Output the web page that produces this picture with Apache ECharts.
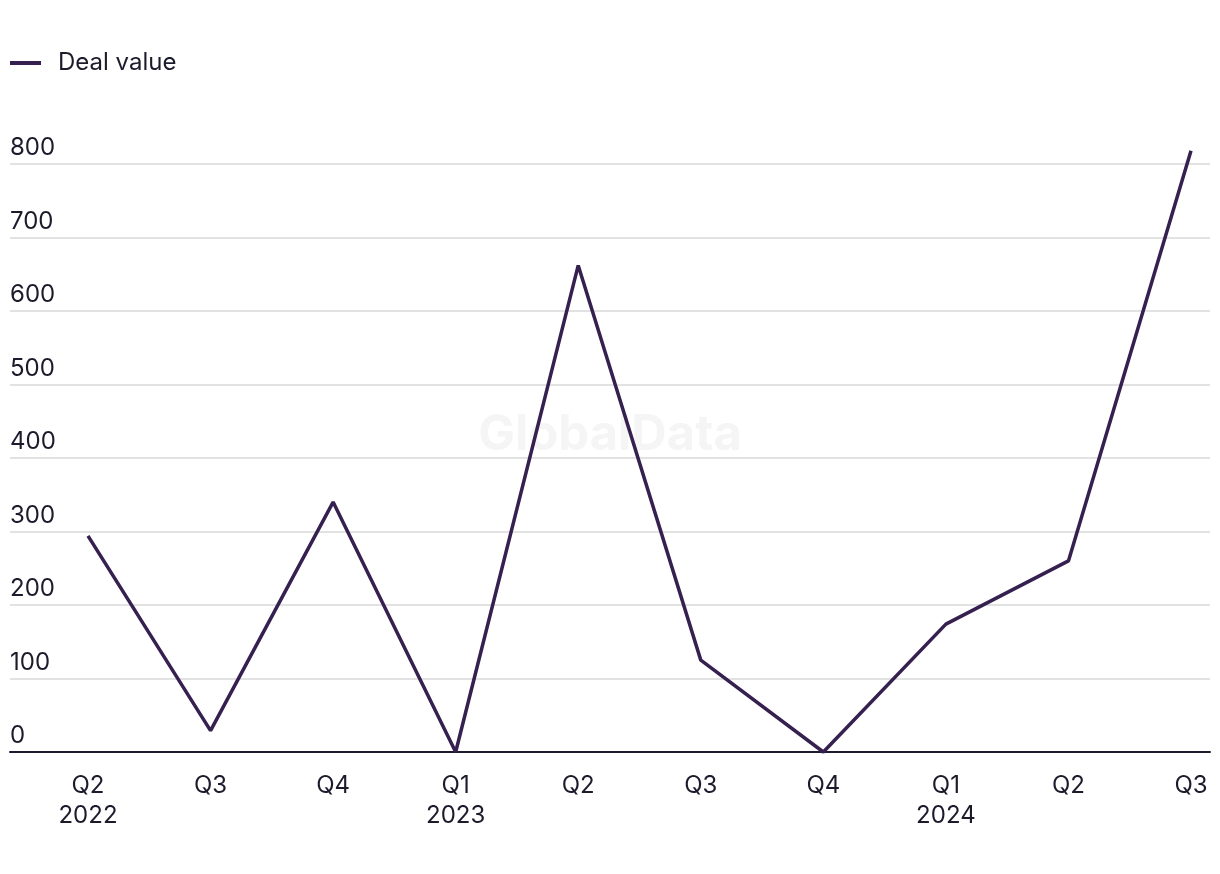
<!DOCTYPE html>
<html><head><meta charset="utf-8">
<script src="https://cdn.jsdelivr.net/npm/echarts@6/dist/echarts.min.js"></script>
<style>html,body{margin:0;padding:0;background:#fff}#c{width:1220px;height:874px}</style>
</head><body><div id="c"></div>
<script>
const categories = ['Q2\n2022','Q3','Q4','Q1\n2023','Q2','Q3','Q4','Q1\n2024','Q2','Q3'];
const dealValue = [294, 29, 340, 0, 662, 125, 0, 174, 260, 818];
const yTicks = {min: 0, max: 800, interval: 100};
const FONT = 'Inter, "Liberation Sans", sans-serif';
const TXT = '#1c1b2b';
const LINE = '#35204f';
const chart = echarts.init(document.getElementById('c'), null, {renderer: 'canvas'});
const TOP = 164, BOTTOM = 874 - 752;
chart.setOption({
  animation: false,
  backgroundColor: '#fff',
  graphic: [{
    type: 'text', left: 'center', top: 411, z: 0,
    style: {text: 'GlobalData', fontFamily: FONT, fontWeight: 'bold', fontSize: 49, fill: '#f5f5f5'}
  }],
  legend: {
    left: 10, top: 51, padding: 0, icon: 'rect', itemWidth: 31, itemHeight: 4,
    data: ['Deal value'],
    textStyle: {fontFamily: FONT, fontSize: 24, color: TXT, padding: [0, 0, 0, 12]}
  },
  grid: [
    {left: 10, right: 10, top: TOP, bottom: BOTTOM, containLabel: false},
    {left: 88, right: 29, top: TOP, bottom: BOTTOM, containLabel: false}
  ],
  xAxis: [
    {gridIndex: 0, type: 'value', min: 0, max: 1, show: true,
     axisLine: {show: true, lineStyle: {color: TXT, width: 2}},
     axisTick: {show: false}, axisLabel: {show: false}, splitLine: {show: false}},
    {gridIndex: 1, type: 'category', data: categories, boundaryGap: false,
     axisLine: {show: false}, axisTick: {show: false}, splitLine: {show: false},
     axisLabel: {fontFamily: FONT, fontSize: 24, color: TXT, lineHeight: 30, margin: 19, interval: 0}}
  ],
  yAxis: [
    {gridIndex: 0, type: 'value', min: yTicks.min, max: yTicks.max, interval: yTicks.interval,
     axisLine: {show: false}, axisTick: {show: false},
     splitLine: {show: true, lineStyle: {color: '#d9d9d9', width: 1.5}},
     axisLabel: {inside: true, margin: 0, verticalAlign: 'bottom', align: 'left',
       fontFamily: FONT, fontSize: 24, color: TXT, padding: [0, 0, 4, 0]}},
    {gridIndex: 1, type: 'value', min: yTicks.min, max: yTicks.max, interval: yTicks.interval, show: false}
  ],
  series: [{
    name: 'Deal value', type: 'line', xAxisIndex: 1, yAxisIndex: 1,
    data: dealValue, clip: false, symbol: 'none', z: 5,
    lineStyle: {color: LINE, width: 3.5}, itemStyle: {color: LINE}
  }]
});
</script></body></html>
